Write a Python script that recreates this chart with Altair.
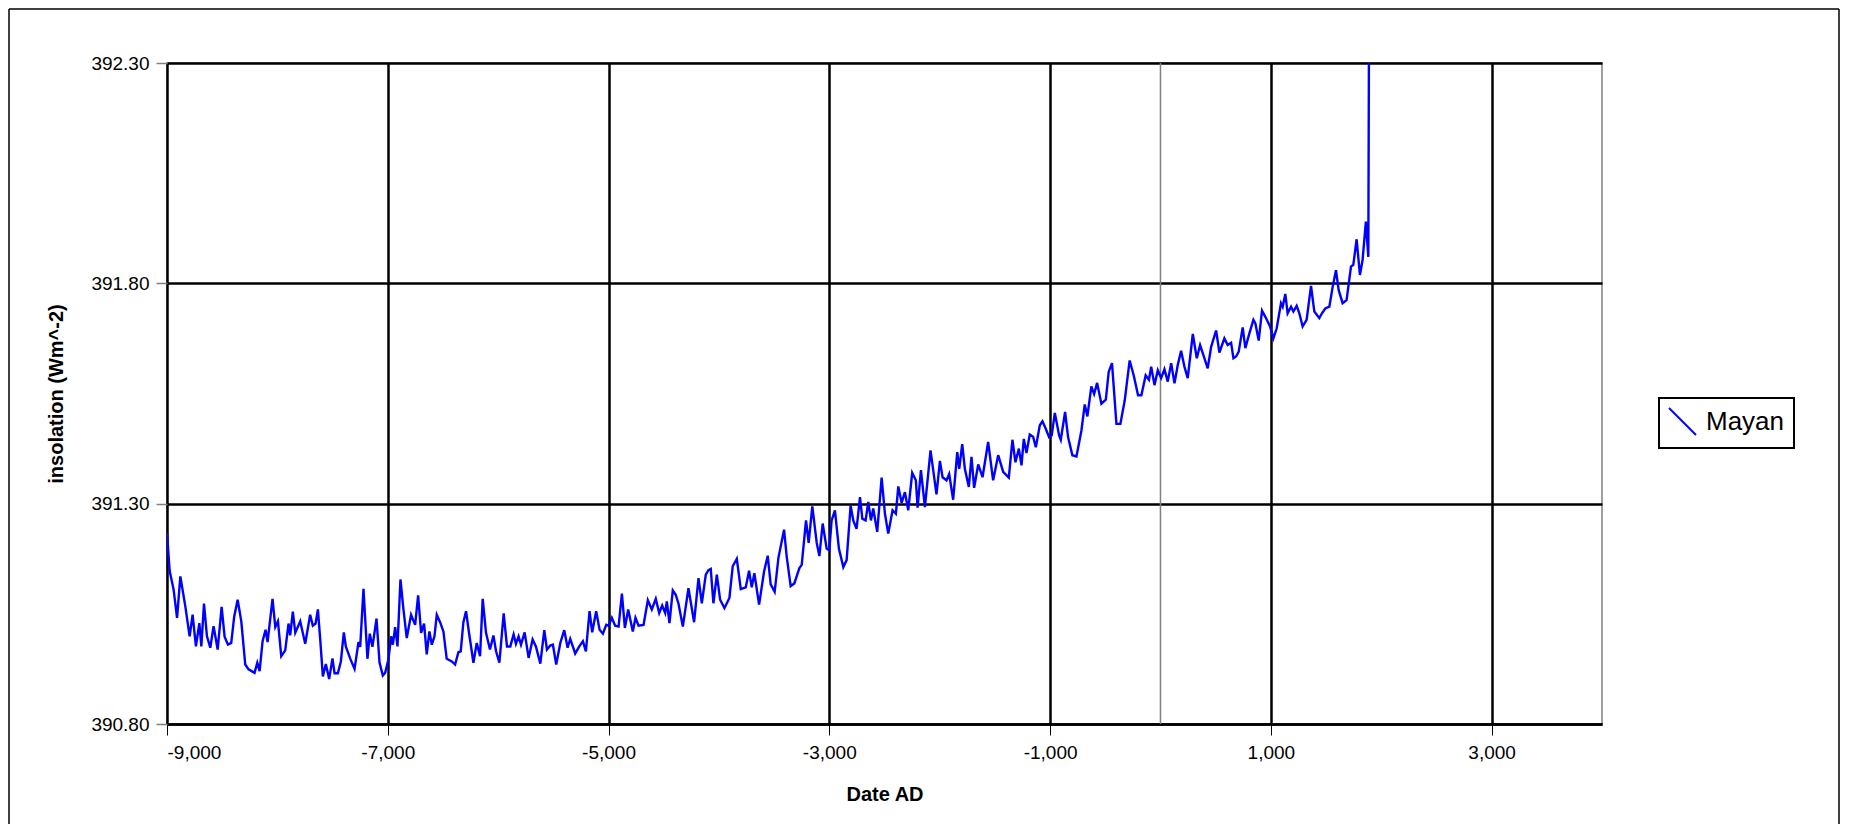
import altair as alt
import pandas as pd

# ---- data ----
years_a = [-9000, -8976, -8940, -8909, -8879, -8834, -8795, -8768, -8738, -8707,
           -8689, -8665, -8638, -8608, -8578, -8541, -8505, -8478, -8448, -8418,
           -8391, -8360, -8327, -8291, -8261, -8207, -8182, -8161, -8134, -8107,
           -8089, -8044, -8019, -7995, -7965, -7929, -7899, -7884, -7860, -7838,
           -7793, -7748, -7703, -7679, -7654, -7633, -7612, -7588, -7561, -7531,
           -7501, -7482, -7452, -7425, -7398, -7380, -7341, -7301, -7265, -7250,
           -7220, -7184, -7163, -7139, -7102, -7075, -7045, -7024, -6994, -6970,
           -6954, -6933, -6912, -6885, -6858, -6828, -6789, -6752, -6725, -6698,
           -6671, -6647, -6623, -6601, -6577, -6556, -6526, -6496, -6466, -6420,
           -6390, -6360, -6339, -6315, -6291, -6264, -6224, -6194, -6164, -6140,
           -6110, -6074, -6043, -6019, -5989]
vals_a = [391.233, 391.147, 391.105, 391.041, 391.135, 391.067, 390.999, 391.048, 390.976, 391.029,
          390.976, 391.073, 390.999, 390.973, 391.022, 390.969, 391.066, 390.998, 390.980, 390.984,
          391.044, 391.082, 391.033, 390.935, 390.924, 390.916, 390.939, 390.920, 390.988, 391.014,
          390.986, 391.084, 391.020, 391.033, 390.954, 390.967, 391.028, 391.001, 391.055, 391.007,
          391.033, 390.982, 391.048, 391.023, 391.028, 391.060, 390.992, 390.908, 390.936, 390.902,
          390.949, 390.915, 390.915, 390.942, 391.008, 390.976, 390.949, 390.925, 390.986, 390.975,
          391.107, 390.948, 391.005, 390.975, 391.039, 390.940, 390.910, 390.916, 390.946, 390.999,
          390.980, 391.020, 390.976, 391.128, 391.060, 390.995, 391.048, 391.025, 391.092, 391.007,
          391.028, 390.958, 391.010, 390.980, 390.999, 391.048, 391.031, 391.010, 390.948, 390.942,
          390.935, 390.963, 390.965, 391.031, 391.056, 391.007, 390.939, 390.984, 390.954, 391.084,
          391.007, 390.969, 391.001, 390.965, 390.939]

years_b = [-5950, -5920, -5890, -5860, -5839, -5815, -5793, -5760, -5724, -5688,
           -5658, -5618, -5582, -5558, -5528, -5504, -5474, -5437, -5401, -5371,
           -5347, -5302, -5265, -5232, -5205, -5172, -5148, -5112, -5081, -5051,
           -5021, -5000, -4970, -4940, -4909, -4879, -4852, -4822, -4780, -4756,
           -4728, -4683, -4644, -4608, -4572, -4541, -4514, -4487, -4472, -4448,
           -4418, -4391, -4366, -4327, -4276, -4225, -4185, -4155, -4119, -4095,
           -4074, -4050, -4019, -3989, -3950, -3905, -3875, -3838, -3802, -3757,
           -3727, -3703, -3679, -3636, -3591, -3558, -3531, -3495, -3461, -3410,
           -3386, -3350, -3317, -3271, -3250, -3211, -3187, -3154, -3114, -3090]
vals_b = [391.051, 390.976, 390.976, 391.003, 390.982, 390.999, 390.980, 391.008, 390.950, 390.992,
          390.976, 390.937, 391.013, 390.969, 390.978, 390.980, 390.935, 390.984, 391.013, 390.973,
          390.993, 390.960, 390.976, 390.988, 390.965, 391.056, 391.008, 391.056, 391.014, 391.005,
          391.025, 391.023, 391.041, 391.023, 391.021, 391.096, 391.018, 391.060, 391.010, 391.041,
          391.023, 391.025, 391.081, 391.060, 391.084, 391.052, 391.069, 391.052, 391.078, 391.029,
          391.103, 391.093, 391.073, 391.021, 391.108, 391.031, 391.131, 391.074, 391.139, 391.149,
          391.152, 391.074, 391.139, 391.082, 391.063, 391.086, 391.158, 391.175, 391.106, 391.110,
          391.148, 391.110, 391.142, 391.071, 391.146, 391.182, 391.117, 391.100, 391.177, 391.241,
          391.180, 391.113, 391.119, 391.154, 391.161, 391.262, 391.211, 391.294, 391.211, 391.181]

years_c = [-3060, -3024, -3000, -2979, -2949, -2913, -2873, -2843, -2807, -2783,
           -2753, -2722, -2701, -2671, -2647, -2623, -2602, -2566, -2526, -2496,
           -2466, -2427, -2397, -2375, -2345, -2315, -2285, -2249, -2216, -2200,
           -2170, -2134, -2083, -2029, -1998, -1974, -1938, -1914, -1878, -1841,
           -1823, -1796, -1772, -1736, -1712, -1688, -1651, -1612, -1561, -1516,
           -1470, -1425, -1374, -1341, -1314, -1283, -1259, -1238, -1214, -1184,
           -1154, -1129, -1093, -1069, -1039, -1009, -985, -957, -918, -903,
           -864, -837, -798, -761, -716, -686, -662, -626, -601, -574,
           -535, -495, -469, -439, -399, -363, -324, -279, -242, -203,
           -173, -134, -104]
vals_c = [391.255, 391.198, 391.194, 391.262, 391.285, 391.198, 391.156, 391.172, 391.296, 391.262,
          391.243, 391.315, 391.266, 391.262, 391.304, 391.262, 391.289, 391.236, 391.359, 391.277,
          391.232, 391.285, 391.277, 391.339, 391.302, 391.326, 391.285, 391.370, 391.353, 391.291,
          391.376, 391.292, 391.421, 391.321, 391.397, 391.360, 391.353, 391.367, 391.309, 391.417,
          391.379, 391.435, 391.379, 391.338, 391.406, 391.336, 391.389, 391.360, 391.440, 391.353,
          391.410, 391.372, 391.359, 391.445, 391.394, 391.425, 391.387, 391.447, 391.415, 391.457,
          391.452, 391.428, 391.478, 391.487, 391.470, 391.451, 391.455, 391.506, 391.455, 391.445,
          391.508, 391.451, 391.410, 391.407, 391.466, 391.525, 391.498, 391.566, 391.549, 391.574,
          391.527, 391.536, 391.599, 391.619, 391.481, 391.481, 391.534, 391.625, 391.591, 391.546,
          391.546, 391.591, 391.581]

years_d = [-84, -54, -24, 6, 36, 66, 97, 127, 157, 187,
           217, 247, 293, 329, 359, 389, 428, 459, 504, 534,
           579, 609, 640, 661, 685, 709, 745, 769, 806, 842,
           860, 890, 920, 950, 993, 1023, 1053, 1092, 1107, 1131,
           1152, 1183, 1204, 1234, 1258, 1288, 1324, 1364, 1394, 1439,
           1463, 1493, 1530, 1560, 1590, 1614, 1650, 1686, 1726, 1747,
           1777, 1807, 1831, 1861, 1883, 1892]
vals_d = [391.611, 391.569, 391.603, 391.585, 391.605, 391.577, 391.619, 391.573, 391.615, 391.647,
          391.611, 391.585, 391.685, 391.630, 391.660, 391.637, 391.607, 391.656, 391.693, 391.643,
          391.675, 391.660, 391.665, 391.630, 391.634, 391.645, 391.700, 391.653, 391.687, 391.717,
          391.709, 391.670, 391.738, 391.724, 391.702, 391.675, 391.698, 391.755, 391.747, 391.776,
          391.732, 391.747, 391.736, 391.749, 391.732, 391.702, 391.717, 391.794, 391.736, 391.721,
          391.732, 391.743, 391.747, 391.792, 391.830, 391.785, 391.755, 391.762, 391.838, 391.842,
          391.900, 391.819, 391.853, 391.940, 391.860, 392.600]

series_name = "Mayan"
x_ticks = [-9000, -7000, -5000, -3000, -1000, 1000, 3000]
y_ticks = [390.8, 391.3, 391.8, 392.3]
x_domain = [-9000, 4000]
y_domain = [390.8, 392.3]
zero_line = [0]

years, vals = [], []
for ys, vs in ((years_a, vals_a), (years_b, vals_b), (years_c, vals_c), (years_d, vals_d)):
    for y, v in zip(ys, vs):
        years.append(y)
        vals.append(v)

df = pd.DataFrame({"year": years, "value": vals, "series": series_name})

FONT = "Liberation Sans"
W, H = 1435, 661
PAD_L, PAD_T, PAD_R, PAD_B = 159, 55, 238, 100

x_enc = alt.X(
    "year:Q",
    scale=alt.Scale(domain=x_domain, nice=False, zero=False),
    axis=alt.Axis(
        values=x_ticks,
        labelExpr="(datum.value < 0 ? '-' : '') + format(abs(datum.value), ',')",
        title="Date AD",
        grid=True, gridColor="black", gridWidth=2.5,
        domain=True, domainColor="black", domainWidth=2.5,
        ticks=True, tickColor="black", tickWidth=1, tickSize=11,
        labelPadding=8, titlePadding=22,
    ),
)
y_enc = alt.Y(
    "value:Q",
    scale=alt.Scale(domain=y_domain, nice=False, zero=False),
    axis=alt.Axis(
        values=y_ticks,
        format=".2f",
        title="insolation (Wm^-2)",
        grid=True, gridColor="black", gridWidth=2.5,
        domain=False,
        ticks=True, tickColor="#808080", tickWidth=1.5, tickSize=11,
        labelPadding=7, titlePadding=24,
    ),
)

zero_rule = alt.Chart(pd.DataFrame({"year": zero_line})).mark_rule(
    color="#808080", strokeWidth=1.5
).encode(x=alt.X("year:Q"))

line = alt.Chart(df).mark_line(strokeWidth=2.4, clip=True).encode(
    x=x_enc,
    y=y_enc,
    color=alt.Color(
        "series:N",
        scale=alt.Scale(domain=[series_name], range=["#0000ff"]),
        legend=alt.Legend(
            title=None,
            orient="none",
            legendX=1492,
            legendY=335,
            symbolType="M-1,-1L1,1",
            symbolSize=729,
            symbolStrokeWidth=2,
            labelFontSize=26,
            labelFont=FONT,
            labelColor="black",
            labelOffset=9,
            padding=9,
            strokeColor="black",
            fillColor="white",
        ),
    ),
)

frame_df = pd.DataFrame({"k": [0]})
frame_left = alt.Chart(frame_df).mark_rule(color="black", strokeWidth=1.5).encode(
    x=alt.value(-158), y=alt.value(-54), y2=alt.value(H + PAD_B))
frame_top = alt.Chart(frame_df).mark_rule(color="black", strokeWidth=1.5).encode(
    x=alt.value(-158), x2=alt.value(W + PAD_R - 1), y=alt.value(-54))
frame_right = alt.Chart(frame_df).mark_rule(color="black", strokeWidth=1.5).encode(
    x=alt.value(W + PAD_R - 1), y=alt.value(-54), y2=alt.value(H + PAD_B))

chart = alt.layer(zero_rule, line, frame_left, frame_top, frame_right).properties(
    width=W,
    height=H,
    padding={"left": PAD_L, "top": PAD_T, "right": PAD_R, "bottom": PAD_B},
    autosize=alt.AutoSizeParams(type="none"),
    background="white",
).configure_view(
    stroke="#808080", strokeWidth=1.5
).configure_axis(
    labelFont=FONT, labelFontSize=19, labelColor="black",
    titleFont=FONT, titleFontSize=20, titleFontWeight="bold", titleColor="black",
).configure_legend(
    strokeWidth=2, cornerRadius=0,
)

chart.save("out.html", embed_options={"renderer": "svg", "actions": False})
